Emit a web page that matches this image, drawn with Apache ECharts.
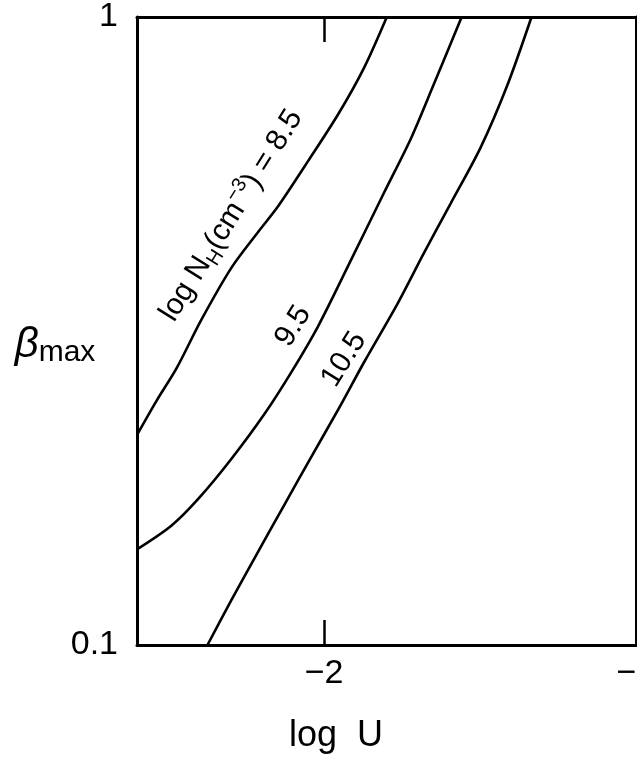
<!DOCTYPE html>
<html><head><meta charset="utf-8">
<script src="https://cdn.jsdelivr.net/npm/echarts@6/dist/echarts.min.js"></script>
<style>html,body{margin:0;padding:0;background:#fff}#c{width:637px;height:763px}</style>
</head><body><div id="c"></div>
<script>
// x: log U, y: beta_max (log scale)
const xTicks = [-2, -1];
const logU_85 = [-2.6, -2.537, -2.473, -2.393, -2.297, -2.211, -2.147, -2.051, -1.955, -1.872, -1.799];
const beta_85 = [0.216, 0.245, 0.276, 0.330, 0.399, 0.455, 0.500, 0.590, 0.700, 0.830, 1.0];
const logU_95 = [-2.6, -2.489, -2.403, -2.297, -2.192, -2.105, -2.019, -1.914, -1.808, -1.722, -1.649, -1.559];
const beta_95 = [0.142, 0.155, 0.171, 0.198, 0.233, 0.272, 0.322, 0.410, 0.525, 0.640, 0.780, 1.0];
const logU_105 = [-2.374, -2.297, -2.211, -2.128, -2.042, -1.955, -1.872, -1.764, -1.681, -1.594, -1.498, -1.412, -1.335];
const beta_105 = [0.1, 0.118, 0.141, 0.167, 0.199, 0.237, 0.282, 0.350, 0.420, 0.505, 0.620, 0.780, 1.0];
// curve label anchors [logU, beta]
const labelPos = [[-2.297, 0.483], [-2.099, 0.322], [-1.936, 0.285]];

const FONT = '"Liberation Sans", Arial, sans-serif';
const zip = (a, b) => a.map((v, i) => [v, b[i]]);
const chart = echarts.init(document.getElementById('c'), null, {renderer: 'canvas'});
const lineSeries = (d) => ({type: 'line', data: d, symbol: 'none', smooth: 0.3,
  lineStyle: {color: '#000', width: 2.6}, silent: true, animation: false});

chart.setOption({
  animation: false,
  backgroundColor: '#fff',
  grid: {left: 137, right: 1, top: 17, bottom: 118, outerBoundsMode: 'none', containLabel: false},
  xAxis: [{
    type: 'value', min: -2.6, max: -1, position: 'bottom',
    axisLine: {show: true, lineStyle: {color: '#000', width: 3}},
    axisTick: {show: true, inside: true, length: 25, customValues: xTicks, lineStyle: {color: '#000', width: 2.5}},
    axisLabel: {show: true, customValues: xTicks, margin: 12, fontSize: 34, color: '#000', fontFamily: FONT,
      formatter: v => '\u2212' + Math.abs(v)},
    splitLine: {show: false}
  }, {
    type: 'value', min: -2.6, max: -1, position: 'top',
    axisLine: {show: true, lineStyle: {color: '#000', width: 3}},
    axisTick: {show: true, inside: true, length: 25, customValues: xTicks, lineStyle: {color: '#000', width: 2.5}},
    axisLabel: {show: false},
    splitLine: {show: false}
  }],
  yAxis: [{
    type: 'log', logBase: 10, min: 0.1, max: 1, position: 'left',
    axisLine: {show: true, lineStyle: {color: '#000', width: 3}},
    axisTick: {show: false},
    axisLabel: {show: true, margin: 19, fontSize: 34, color: '#000', fontFamily: FONT,
      formatter: v => (v > 0.5 ? '1' : '0.1')},
    splitLine: {show: false}
  }, {
    type: 'log', logBase: 10, min: 0.1, max: 1, position: 'right',
    axisLine: {show: true, lineStyle: {color: '#000', width: 3}},
    axisTick: {show: false}, axisLabel: {show: false}, splitLine: {show: false}
  }],
  series: [lineSeries(zip(logU_85, beta_85)), lineSeries(zip(logU_95, beta_95)), lineSeries(zip(logU_105, beta_105))]
});

const ang = 58 * Math.PI / 180;
const px = labelPos.map(p => chart.convertToPixel({gridIndex: 0}, p));
const rich = {
  a: {fontSize: 30, fontFamily: FONT, color: '#000', lineHeight: 38},
  s: {fontSize: 20, fontFamily: FONT, color: '#000', lineHeight: 38, verticalAlign: 'bottom'},
  p: {fontSize: 20, fontFamily: FONT, color: '#000', lineHeight: 38, verticalAlign: 'top'}
};
const curveText = ['{a|log N}{s|H}{a|(cm}{p|\u22123}{a|) = 8.5}', '{a|9.5}', '{a|10.5}'];
const graphics = px.map((p, i) => ({
  type: 'text', x: p[0], y: p[1], rotation: ang, silent: true,
  style: {text: curveText[i], rich: rich, align: 'center', verticalAlign: 'middle', fill: '#000'}
}));
graphics.push({
  type: 'text', x: 336, y: 736, silent: true,
  style: {text: 'log  U', fontSize: 36, fontFamily: FONT, fill: '#000', align: 'center', verticalAlign: 'middle'}
});
graphics.push({
  type: 'text', x: 55, y: 345, silent: true,
  style: {text: '{b|\u03b2}{m|max}', align: 'center', verticalAlign: 'middle',
    rich: {b: {fontSize: 42, fontStyle: 'italic', fontFamily: FONT, fill: '#000', lineHeight: 46},
           m: {fontSize: 30, fontFamily: FONT, fill: '#000', lineHeight: 46, verticalAlign: 'bottom'}}}
});
chart.setOption({graphic: graphics});
</script></body></html>
